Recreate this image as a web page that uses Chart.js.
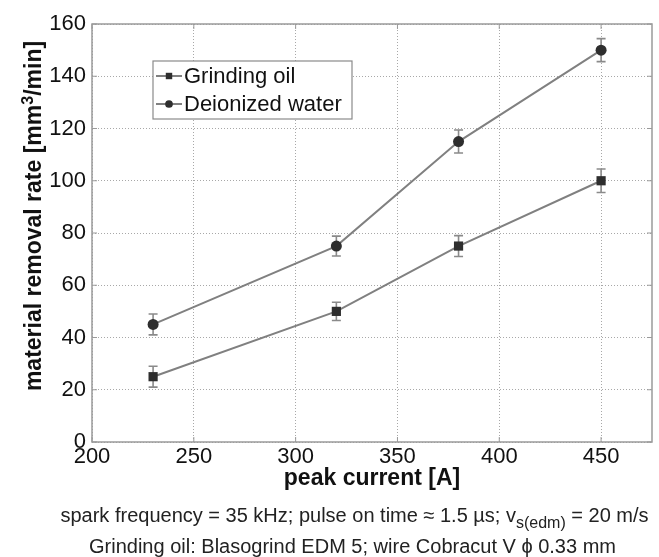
<!DOCTYPE html>
<html>
<head>
<meta charset="utf-8">
<script src="https://cdn.jsdelivr.net/npm/chart.js@4.4.1/dist/chart.umd.min.js"></script>
<style>
  body { margin: 0; background: #fff; }
  #wrap { position: relative; width: 659px; height: 557px; }
  .cap { position: absolute; left: 0; width: 659px; text-align: center; font-family: "Liberation Sans", Arial, sans-serif; font-size: 20px; line-height: 23px; color: #222; box-sizing: border-box; }
  .cap sub { font-size: 16px; vertical-align: -6px; line-height: 0; }
  #ytitle { position: absolute; left: 33px; top: 216px; width: 400px; margin-left: -200px; margin-top: -14px; text-align: center; transform: rotate(-90deg); font-family: "Liberation Sans", Arial, sans-serif; font-weight: bold; font-size: 23px; line-height: 28px; color: #111; white-space: nowrap; }
  #ytitle sup { font-size: 16px; line-height: 0; vertical-align: 8px; }
</style>
</head>
<body>
<div id="wrap">
  <canvas id="chart" width="659" height="557"></canvas>
  <div id="ytitle">material removal rate [mm<sup>3</sup>/min]</div>
  <div class="cap" style="top:504px; padding-left:50px;">spark frequency = 35 kHz; pulse on time ≈ 1.5 µs; v<sub>s(edm)</sub> = 20 m/s</div>
  <div class="cap" style="top:535px; padding-left:46px;">Grinding oil: Blasogrind EDM 5; wire Cobracut V ϕ 0.33 mm</div>
</div>
<script>
const currents = [230, 320, 380, 450];
const oilRate = [25, 50, 75, 100];
const oilErr = [4, 3.5, 4, 4.5];
const waterRate = [45, 75, 115, 150];
const waterErr = [4, 3.8, 4.4, 4.4];
const seriesNames = ['Grinding oil', 'Deionized water'];

const font = "'Liberation Sans', Arial, sans-serif";

function points(values) {
    return currents.map((c, i) => ({ x: c, y: values[i] }));
}

// error bars with caps, drawn under the markers
const errorBars = {
    id: 'errorBars',
    beforeDatasetsDraw(chart) {
        const ctx = chart.ctx;
        const xs = chart.scales.x, ys = chart.scales.y;
        const errs = [oilErr, waterErr];
        ctx.save();
        ctx.strokeStyle = '#8a8a8a';
        ctx.lineWidth = 1.6;
        chart.data.datasets.forEach((ds, d) => {
            ds.data.forEach((p, i) => {
                const px = xs.getPixelForValue(p.x);
                const top = ys.getPixelForValue(p.y + errs[d][i]);
                const bot = ys.getPixelForValue(p.y - errs[d][i]);
                ctx.beginPath();
                ctx.moveTo(px, top); ctx.lineTo(px, bot);
                ctx.moveTo(px - 4.5, top); ctx.lineTo(px + 4.5, top);
                ctx.moveTo(px - 4.5, bot); ctx.lineTo(px + 4.5, bot);
                ctx.stroke();
            });
        });
        ctx.restore();
    }
};

// plot frame, inner tick marks, legend box
const frameLegend = {
    id: 'frameLegend',
    afterDraw(chart) {
        const ctx = chart.ctx;
        const a = chart.chartArea;
        const xs = chart.scales.x, ys = chart.scales.y;
        ctx.save();
        ctx.strokeStyle = '#9a9a9a';
        ctx.lineWidth = 1.5;
        ctx.setLineDash([]);
        ctx.strokeRect(a.left, a.top, a.right - a.left, a.bottom - a.top);

        ctx.lineWidth = 1;
        ctx.beginPath();
        xs.ticks.forEach(t => {
            const px = xs.getPixelForValue(t.value);
            ctx.moveTo(px, a.bottom); ctx.lineTo(px, a.bottom - 5);
            ctx.moveTo(px, a.top); ctx.lineTo(px, a.top + 5);
        });
        ys.ticks.forEach(t => {
            const py = ys.getPixelForValue(t.value);
            ctx.moveTo(a.left, py); ctx.lineTo(a.left + 5, py);
            ctx.moveTo(a.right, py); ctx.lineTo(a.right - 5, py);
        });
        ctx.stroke();

        const bx = 153, by = 61, bw = 199, bh = 58;
        ctx.fillStyle = '#fff';
        ctx.fillRect(bx, by, bw, bh);
        ctx.strokeStyle = '#8a8a8a';
        ctx.lineWidth = 1.2;
        ctx.strokeRect(bx, by, bw, bh);
        ctx.font = '22px ' + font;
        ctx.textBaseline = 'middle';
        chart.data.datasets.forEach((ds, i) => {
            const cy = by + 15 + i * 28;
            ctx.strokeStyle = ds.borderColor;
            ctx.lineWidth = 2;
            ctx.beginPath();
            ctx.moveTo(bx + 3, cy); ctx.lineTo(bx + 29, cy);
            ctx.stroke();
            ctx.fillStyle = ds.pointBackgroundColor;
            Chart.helpers.drawPoint(ctx, { pointStyle: ds.pointStyle, radius: ds.pointRadius * 0.7, borderWidth: 0 }, bx + 16, cy);
            ctx.fillStyle = '#111';
            ctx.fillText(ds.label, bx + 31, cy + 1);
        });
        ctx.restore();
    }
};

new Chart(document.getElementById('chart'), {
    type: 'line',
    data: {
        datasets: [{
            label: seriesNames[0],
            data: points(oilRate),
            borderColor: '#808080',
            borderWidth: 2,
            pointStyle: 'rect',
            pointRadius: 6.5,
            pointBackgroundColor: '#2e2e2e',
            pointBorderWidth: 0
        }, {
            label: seriesNames[1],
            data: points(waterRate),
            borderColor: '#808080',
            borderWidth: 2,
            pointStyle: 'circle',
            pointRadius: 5.5,
            pointBackgroundColor: '#2e2e2e',
            pointBorderWidth: 0
        }]
    },
    options: {
        responsive: false,
        animation: false,
        layout: { padding: { top: 24, right: 7, left: 0, bottom: 65 } },
        plugins: { legend: { display: false }, tooltip: { enabled: false } },
        scales: {
            x: {
                type: 'linear',
                min: 200, max: 475,
                afterFit(s) { s.height = 50; },
                ticks: { stepSize: 50, includeBounds: false, padding: 2, color: '#111', font: { family: font, size: 22 } },
                grid: { color: '#a8a8a8', lineWidth: 1, drawTicks: false },
                border: { display: false, dash: [1, 2] },
                title: { display: true, text: 'peak current [A]', color: '#111', padding: 0, font: { family: font, size: 23, weight: 'bold' } }
            },
            y: {
                min: 0, max: 160,
                afterFit(s) { s.width = 92; },
                ticks: { stepSize: 20, padding: 6, color: '#111', font: { family: font, size: 22 } },
                grid: { color: '#a8a8a8', lineWidth: 1, drawTicks: false },
                border: { display: false, dash: [1, 2] }
            }
        }
    },
    plugins: [errorBars, frameLegend]
});
</script>
</body>
</html>
